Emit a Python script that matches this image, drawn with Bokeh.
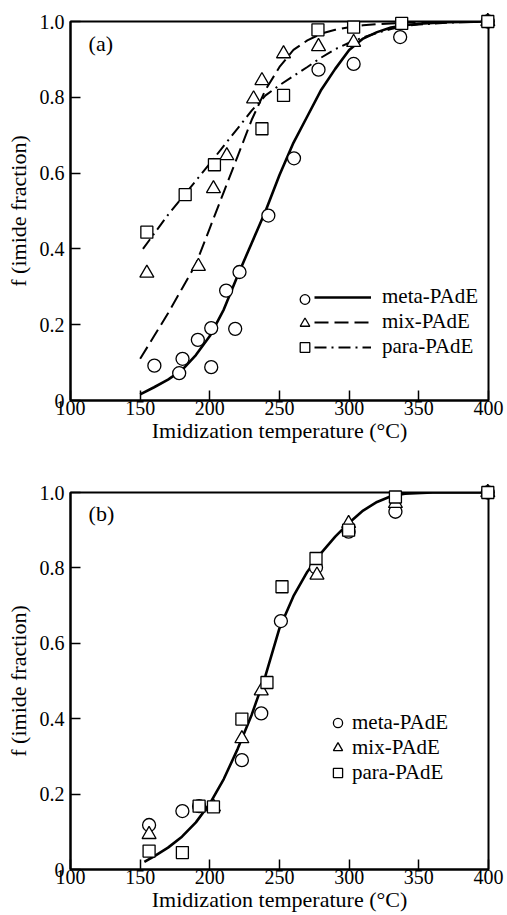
from bokeh.plotting import figure
from bokeh.layouts import column
from bokeh.models import FixedTicker, CustomJSTickFormatter, Legend, LegendItem, Label
from bokeh.embed import file_html
from bokeh.resources import INLINE

FONT = "Liberation Serif"

# ---------------- data: panel (a) ----------------
a_meta_T = [160.2, 178.0, 180.4, 191.4, 201.0, 201.0, 211.7, 218.2, 221.3, 242.0, 260.4, 278.0, 303.2, 336.6, 399.5]
a_meta_f = [0.092, 0.072, 0.110, 0.160, 0.191, 0.088, 0.290, 0.189, 0.339, 0.488, 0.639, 0.873, 0.888, 0.959, 1.0]
a_mix_T = [154.8, 191.8, 202.6, 212.2, 231.4, 237.4, 252.9, 278.0, 303.2, 399.5]
a_mix_f = [0.336, 0.354, 0.559, 0.646, 0.796, 0.844, 0.915, 0.934, 0.945, 1.0]
a_para_T = [154.8, 182.3, 203.3, 237.4, 252.9, 277.6, 303.2, 337.7, 399.5]
a_para_f = [0.444, 0.543, 0.622, 0.717, 0.805, 0.978, 0.985, 0.995, 1.0]

a_fit_T = [150, 160, 170, 180, 190, 200, 210, 220, 230, 240, 250, 260, 270, 280, 290, 300, 310, 320, 330, 340, 350, 370, 400]
a_meta_fit = [0.016, 0.035, 0.055, 0.080, 0.120, 0.170, 0.240, 0.330, 0.415, 0.500, 0.595, 0.680, 0.750, 0.820,
              0.875, 0.925, 0.955, 0.972, 0.984, 0.990, 0.994, 0.998, 1.0]
a_mix_fit = [0.110, 0.170, 0.230, 0.295, 0.360, 0.455, 0.550, 0.645, 0.740, 0.820, 0.880, 0.925, 0.950, 0.968,
             0.978, 0.985, 0.990, 0.993, 0.995, 0.997, 0.998, 0.999, 1.0]
a_para_fit_T = [152, 160, 170, 180, 190, 200, 210, 220, 230, 240, 250, 260, 270, 280, 290, 300, 310, 320, 330, 340, 350, 370, 400]
a_para_fit = [0.400, 0.440, 0.490, 0.535, 0.580, 0.625, 0.672, 0.718, 0.765, 0.805, 0.832, 0.856, 0.880, 0.905,
              0.927, 0.944, 0.958, 0.970, 0.980, 0.988, 0.992, 0.997, 1.0]

# ---------------- data: panel (b) ----------------
b_meta_T = [156.4, 180.3, 192.3, 223.0, 236.9, 251.0, 276.2, 299.6, 333.2, 399.5]
b_meta_f = [0.118, 0.155, 0.168, 0.290, 0.414, 0.659, 0.801, 0.896, 0.949, 1.0]
b_mix_T = [156.4, 202.6, 223.0, 236.9, 276.9, 299.6, 333.2, 399.5]
b_mix_f = [0.093, 0.166, 0.347, 0.474, 0.781, 0.918, 0.971, 1.0]
b_para_T = [156.4, 180.3, 192.3, 202.6, 223.0, 241.0, 251.8, 276.2, 299.6, 333.2, 399.5]
b_para_f = [0.049, 0.045, 0.168, 0.166, 0.399, 0.496, 0.750, 0.825, 0.900, 0.988, 1.0]

b_fit_T = [153, 160, 170, 180, 190, 200, 210, 220, 230, 240, 250, 260, 270, 280, 290, 300, 310, 320, 330, 340, 360, 400]
b_fit = [0.020, 0.035, 0.058, 0.087, 0.125, 0.175, 0.240, 0.320, 0.410, 0.515, 0.640, 0.725, 0.790, 0.840,
         0.883, 0.920, 0.952, 0.975, 0.990, 0.997, 1.0, 1.0]

x_ticks = [100, 150, 200, 250, 300, 350, 400]
y_ticks = [0, 0.2, 0.4, 0.6, 0.8, 1.0]
series_names = ["meta-PAdE", "mix-PAdE", "para-PAdE"]


def make_fig(height, top, bottom):
    p = figure(width=507, height=height, x_range=(100, 400), y_range=(0, 1.0),
               output_backend="svg", toolbar_location=None,
               min_border_left=70, min_border_right=19,
               min_border_top=top, min_border_bottom=bottom)
    p.grid.visible = False
    p.outline_line_color = "black"
    p.outline_line_width = 2
    p.outline_line_alpha = 1
    for ax in (p.xaxis[0], p.yaxis[0]):
        ax.axis_line_width = 2
        ax.major_tick_in = 10
        ax.major_tick_out = 0
        ax.minor_tick_in = 0
        ax.minor_tick_out = 0
        ax.major_tick_line_width = 1.5
        ax.major_label_text_font = FONT
        ax.major_label_text_font_size = "20px"
        ax.major_label_text_color = "black"
        ax.axis_label_text_font = FONT
        ax.axis_label_text_font_size = "22px"
        ax.axis_label_text_font_style = "normal"
        ax.axis_label_text_color = "black"
    p.xaxis.ticker = FixedTicker(ticks=x_ticks)
    p.yaxis.ticker = FixedTicker(ticks=y_ticks)
    p.yaxis.formatter = CustomJSTickFormatter(code="return tick == 0 ? '0' : tick.toFixed(1);")
    p.xaxis.major_label_standoff = 0
    p.yaxis.major_label_standoff = 6
    p.xaxis.axis_label_standoff = 0
    p.yaxis.axis_label_standoff = 6
    p.xaxis.axis_label = "Imidization temperature (°C)"
    p.yaxis.axis_label = "f (imide fraction)"
    return p


def pts(p, x, y, marker, size):
    return p.scatter(x, y, marker=marker, size=size, fill_color="white", line_color="black",
                     line_width=1.3, level="overlay")


def leg_style(leg, gw, gh, standoff):
    leg.glyph_width = gw
    leg.glyph_height = gh
    leg.label_height = gh
    leg.label_standoff = standoff
    leg.padding = 0
    leg.margin = 0
    leg.spacing = 0
    leg.border_line_color = None
    leg.background_fill_alpha = 0
    leg.label_text_font = FONT
    leg.label_text_font_size = "21px"
    leg.label_text_color = "black"


# ---------------- panel (a) ----------------
pa = make_fig(460, 21, 60)
la1 = pa.line(a_fit_T, a_meta_fit, line_color="black", line_width=2.6)
la2 = pa.line(a_fit_T, a_mix_fit, line_color="black", line_width=2, line_dash="14 6")
la3 = pa.line(a_para_fit_T, a_para_fit, line_color="black", line_width=2, line_dash="12 5 2 5")
sa1 = pts(pa, a_meta_T, a_meta_f, "circle", 13)
sa2 = pts(pa, a_mix_T, a_mix_f, "triangle", 14)
sa3 = pts(pa, a_para_T, a_para_f, "square", 12)

leg_a_m = Legend(items=[LegendItem(label=" ", renderers=[r]) for r in (sa1, sa2, sa3)],
                 location=(222, 41))
leg_style(leg_a_m, 25, 24, 0)
leg_a_m.label_width = 0
leg_a_l = Legend(items=[LegendItem(label=n, renderers=[r]) for n, r in zip(series_names, (la1, la2, la3))],
                 location=(244, 41))
leg_style(leg_a_l, 57, 24, 11)
pa.add_layout(leg_a_m)
pa.add_layout(leg_a_l)
pa.add_layout(Label(x=113, y=0.942, text="(a)", text_font=FONT, text_font_size="22px",
                    text_baseline="middle", text_color="black"))

# ---------------- panel (b) ----------------
pb = make_fig(455, 32, 46)
lb = pb.line(b_fit_T, b_fit, line_color="black", line_width=2.6)
sb1 = pts(pb, b_meta_T, b_meta_f, "circle", 13)
sb2 = pts(pb, b_mix_T, b_mix_f, "triangle", 14)
sb3 = pts(pb, b_para_T, b_para_f, "square", 12)
leg_b = Legend(items=[LegendItem(label=n, renderers=[r]) for n, r in zip(series_names, (sb1, sb2, sb3))],
               location=(255, 84))
leg_style(leg_b, 25, 23, 2)
pb.add_layout(leg_b)
pb.add_layout(Label(x=113, y=0.945, text="(b)", text_font=FONT, text_font_size="22px",
                    text_baseline="middle", text_color="black"))

layout = column(pa, pb, spacing=0)
open("out.html", "w").write(file_html(layout, INLINE))
